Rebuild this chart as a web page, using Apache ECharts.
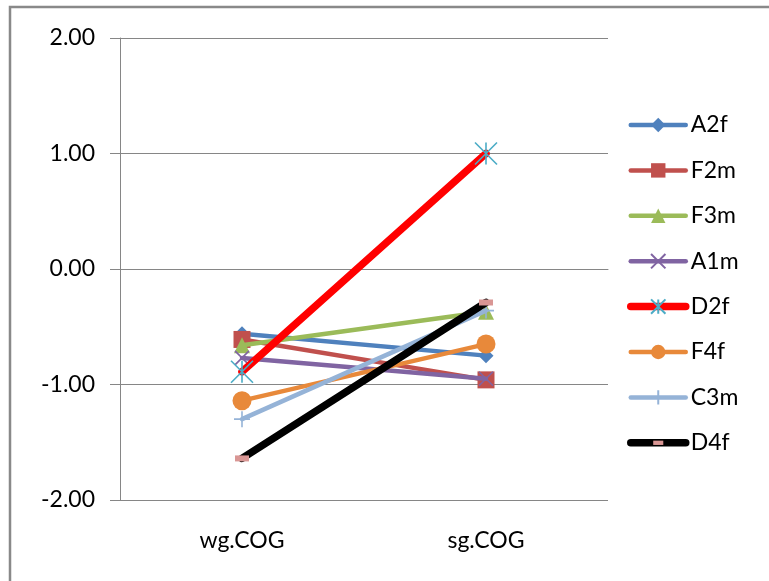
<!DOCTYPE html>
<html>
<head>
<meta charset="utf-8">
<script src="https://cdn.jsdelivr.net/npm/echarts@6/dist/echarts.min.js"></script>
<style>
html,body{margin:0;padding:0;background:#fff;}
#c{width:769px;height:581px;}
</style>
</head>
<body>
<div id="c"></div>
<script>
const categories = ['wg.COG', 'sg.COG'];
const seriesNames = ['A2f', 'F2m', 'F3m', 'A1m', 'D2f', 'F4f', 'C3m', 'D4f'];
const A2f = [-0.56, -0.75];
const F2m = [-0.61, -0.96];
const F3m = [-0.66, -0.37];
const A1m = [-0.77, -0.95];
const D2f = [-0.89, 1.00];
const F4f = [-1.14, -0.65];
const C3m = [-1.30, -0.36];
const D4f = [-1.64, -0.29];
const yTicks = [-2, -1, 0, 1, 2];

const values = [A2f, F2m, F3m, A1m, D2f, F4f, C3m, D4f];
const styles = [
  {line: '#4F81BD', width: 4.5, mark: '#4F81BD', symbol: 'diamond', size: 15},
  {line: '#C0504D', width: 4.5, mark: '#C0504D', symbol: 'rect', size: 17},
  {line: '#9BBB59', width: 4.5, mark: '#9BBB59', symbol: 'triangle', size: 16},
  {line: '#8064A2', width: 4.5, mark: '#8064A2', symbol: 'path://M0 0L10 10M10 0L0 10', size: 14, stroke: true},
  {line: '#FF0000', width: 7.5, mark: '#4BACC6', symbol: 'path://M0 0L10 10M10 0L0 10M5 0L5 10', size: 22, stroke: true},
  {line: '#E8893A', width: 4.5, mark: '#E8893A', symbol: 'circle', size: 19},
  {line: '#95B3D7', width: 4.5, mark: '#95B3D7', symbol: 'path://M5 0L5 10M0 5L10 5', size: 16, stroke: true},
  {line: '#000000', width: 7.5, mark: '#D99694', symbol: 'path://M0 0M20 20M3 7H17V13H3Z', size: 20}
];

const series = seriesNames.map((n, i) => {
  const s = styles[i];
  return {
    name: n,
    type: 'line',
    data: values[i],
    symbol: s.symbol,
    symbolSize: s.size,
    symbolKeepAspect: true,
    showAllSymbol: true,
    lineStyle: {color: s.line, width: s.width, cap: 'round', join: 'round'},
    itemStyle: s.stroke
      ? {color: s.mark, borderColor: s.mark, borderWidth: 1.6}
      : {color: s.mark, borderColor: s.mark, borderWidth: 0},
    emphasis: {disabled: true},
    z: 2 + i * 0.01
  };
});

const legendData = seriesNames.map((n, i) => ({
  name: n,
  lineStyle: {color: styles[i].line, width: styles[i].width, cap: 'round'}
}));

const chart = echarts.init(document.getElementById('c'), null, {renderer: 'canvas'});
chart.setOption({
  animation: false,
  backgroundColor: '#ffffff',
  textStyle: {fontFamily: 'Lato'},
  graphic: [{
    type: 'rect',
    shape: {x: 10, y: 7, width: 780, height: 600},
    style: {fill: 'none', stroke: '#898989', lineWidth: 2.5},
    silent: true, z: 0
  }],
  grid: {left: 120, right: 161, top: 38, bottom: 81},
  xAxis: {
    type: 'category',
    data: categories,
    boundaryGap: true,
    axisLine: {lineStyle: {color: '#868686', width: 1}},
    axisTick: {show: false},
    axisLabel: {fontFamily: 'Lato', fontSize: 23, color: '#000', margin: 29}
  },
  yAxis: {
    type: 'value',
    min: yTicks[0],
    max: yTicks[yTicks.length - 1],
    interval: 1,
    axisLine: {show: true, lineStyle: {color: '#868686', width: 1}},
    axisTick: {show: true, length: 10, lineStyle: {color: '#868686'}},
    splitLine: {lineStyle: {color: '#868686', width: 1}},
    axisLabel: {fontFamily: 'Lato', fontSize: 23, color: '#000', margin: 25,
      formatter: v => v.toFixed(2)}
  },
  legend: {
    orient: 'vertical',
    left: 622,
    top: 108,
    padding: 5,
    itemWidth: 55,
    itemHeight: 18,
    itemGap: 21.4,
    data: legendData,
    textStyle: {fontFamily: 'Lato', fontSize: 23, color: '#000', lineHeight: 24, padding: [0, 0, 0, 0]},
    selectedMode: false
  },
  series: series
});
</script>
</body>
</html>
